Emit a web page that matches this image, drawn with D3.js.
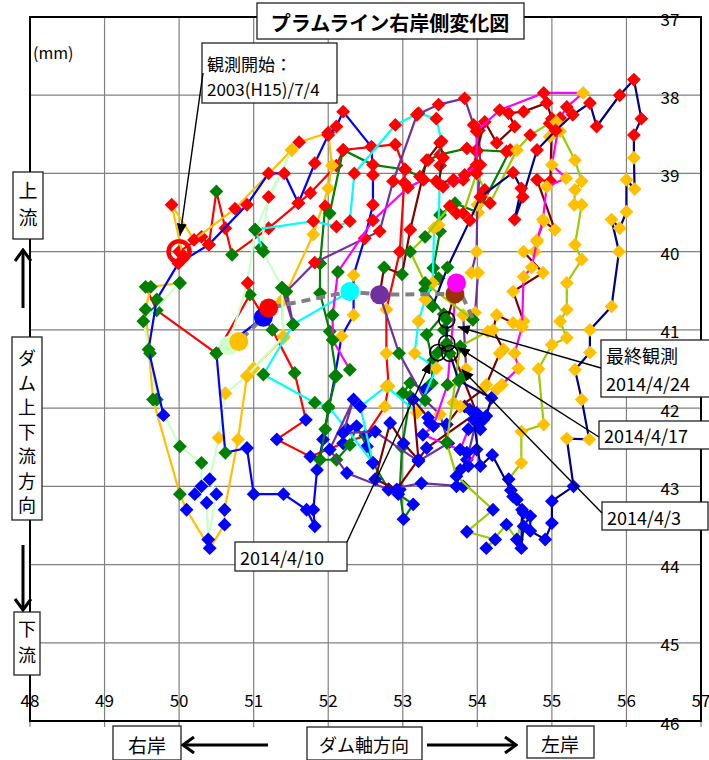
<!DOCTYPE html>
<html>
<head>
<meta charset="utf-8">
<script src="https://cdn.jsdelivr.net/npm/d3@7"></script>
<style>
  body { margin: 0; background: #fff; }
  svg text { font-family: "Noto Sans CJK JP", "Noto Sans", sans-serif; fill: #000; }
</style>
</head>
<body>
<svg id="chart" width="709" height="760"></svg>
<script>
// axis ticks
const xTicks = [48, 49, 50, 51, 52, 53, 54, 55, 56, 57];
const yTicks = [37, 38, 39, 40, 41, 42, 43, 44, 45, 46];

// marker colour by season code
const seasonColor = { R: "#FF0000", Y: "#FFC000", G: "#008000", B: "#0000FF" };

// one list per year: [dam axis (mm), up/downstream (mm), season]
const yr2003 = [[50.00,40.00,"R"],[50.30,39.81,"R"],[50.40,39.91,"R"],[50.50,39.23,"G"],[50.62,39.70,"R"],[50.71,40.04,"G"],[51.20,39.70,"R"],[51.60,39.38,"R"],[51.76,39.25,"R"],[52.11,38.90,"R"],[52.20,38.70,"R"],[52.58,38.66,"R"],[52.90,38.63,"R"],[53.03,38.95,"R"],[53.02,39.12,"R"],[52.96,40.00,"R"],[52.78,40.74,"Y"],[52.78,41.30,"Y"],[52.81,41.72,"Y"],[52.76,41.98,"Y"],[52.50,42.35,"B"],[52.20,42.45,"B"],[51.76,42.62,"B"],[51.31,42.40,"B"],[51.70,42.15,"B"],[51.55,41.55,"G"],[51.25,41.00,"G"],[50.95,40.55,"G"],[50.50,41.30,"G"],[49.70,40.75,"G"],[49.55,40.45,"G"]];
const yr2004 = [[50.05,40.05,"R"],[49.90,39.40,"R"],[50.20,39.85,"R"],[50.75,39.45,"R"],[51.51,38.70,"Y"],[51.61,38.60,"R"],[52.00,38.48,"R"],[52.05,38.90,"Y"],[52.00,39.19,"Y"],[51.80,39.78,"Y"],[51.40,40.60,"Y"],[51.38,40.64,"Y"],[51.40,41.10,"Y"],[51.00,41.49,"Y"],[50.91,41.59,"Y"],[50.79,42.40,"Y"],[50.61,43.30,"B"],[50.61,43.49,"B"],[50.41,43.79,"B"],[50.10,43.30,"B"],[50.01,43.10,"G"],[49.65,41.89,"G"],[49.55,40.74,"G"],[49.62,40.45,"G"],[50.01,40.40,"G"]];
const yr2005 = [[50.01,40.40,"G"],[49.52,40.89,"G"],[49.61,41.30,"G"],[49.70,41.89,"G"],[50.01,42.49,"G"],[50.30,42.70,"G"],[50.30,43.00,"B"],[50.21,43.10,"B"],[50.37,43.21,"B"],[50.39,43.68,"B"],[50.50,43.10,"B"],[50.41,42.91,"B"],[50.53,42.38,"Y"],[50.62,41.81,"Y"],[50.91,41.59,"Y"],[51.40,41.08,"Y"],[51.38,40.46,"G"],[51.10,39.95,"G"],[51.20,39.30,"R"],[51.51,38.70,"Y"],[51.02,39.72,"G"],[50.92,40.40,"R"],[50.66,41.20,"G"]];
const yr2006 = [[49.79,42.09,"B"],[49.59,41.25,"G"],[49.70,40.61,"G"],[49.99,40.15,"R"],[50.40,39.91,"R"],[50.91,39.40,"R"],[51.20,39.00,"R"],[51.41,39.00,"R"],[51.60,39.38,"R"],[51.82,38.87,"R"],[52.00,38.51,"R"],[52.11,38.40,"R"],[52.20,38.21,"R"],[52.58,38.66,"R"],[52.60,39.02,"R"],[52.60,39.40,"R"],[52.49,39.83,"Y"],[52.34,40.30,"Y"],[52.34,40.81,"Y"],[52.18,41.08,"Y"],[52.09,41.59,"G"],[51.93,42.40,"B"],[51.85,42.79,"B"],[51.80,43.30,"B"],[51.82,43.51,"B"],[51.71,43.30,"B"],[51.40,43.10,"B"],[51.00,43.10,"B"],[50.91,42.51,"B"],[50.62,42.57,"G"],[50.50,41.30,"G"],[51.13,40.84,"G"]];
const yr2007 = [[51.89,40.15,"G"],[51.96,39.42,"R"],[52.02,39.51,"G"],[52.20,38.70,"R"],[52.60,38.89,"R"],[53.03,38.95,"R"],[53.23,39.04,"R"],[53.34,38.83,"R"],[53.50,38.76,"R"],[53.86,38.68,"R"],[53.99,38.70,"R"],[54.39,38.72,"R"],[54.44,38.70,"R"],[54.01,39.50,"Y"],[53.70,39.38,"G"],[53.50,39.53,"G"],[53.50,39.74,"G"],[53.41,40.21,"G"],[53.48,40.34,"G"],[53.30,40.49,"G"],[53.55,40.80,"G"],[53.32,41.06,"G"],[53.40,41.40,"G"],[53.39,41.68,"G"],[53.30,41.76,"B"],[53.10,41.68,"G"],[53.00,41.81,"G"],[53.10,41.85,"G"],[52.99,42.50,"G"],[52.96,43.04,"B"],[53.01,43.42,"B"],[53.14,43.23,"B"],[52.94,43.10,"B"],[52.81,43.04,"B"],[52.60,42.70,"B"],[52.52,42.49,"B"],[52.38,42.23,"B"],[52.29,42.47,"G"],[52.11,42.66,"G"],[51.89,42.66,"G"],[51.96,42.27,"G"],[52.00,42.00,"G"],[52.11,41.59,"G"],[52.02,41.02,"G"],[51.89,40.53,"G"],[51.89,40.15,"G"]];
const yr2008 = [[51.13,40.00,"G"],[51.02,39.72,"G"],[51.80,39.61,"R"],[52.11,39.68,"R"],[52.29,39.61,"R"],[52.35,39.00,"R"],[52.90,38.38,"R"],[53.21,38.23,"R"],[53.45,38.30,"R"],[53.52,38.59,"R"],[53.50,38.90,"R"],[53.48,39.66,"Y"],[53.42,39.70,"Y"],[53.40,40.40,"Y"],[53.30,40.61,"Y"],[53.21,40.89,"Y"],[53.16,41.30,"Y"],[53.45,41.49,"Y"],[53.19,42.06,"Y"],[52.78,41.72,"Y"],[52.43,41.98,"B"],[52.60,42.70,"B"],[52.25,42.27,"B"],[52.00,41.98,"G"],[51.82,41.93,"G"],[51.13,41.57,"G"],[51.53,40.93,"G"],[52.29,40.51,"G"]];
const yr2009 = [[51.38,40.46,"G"],[51.53,40.93,"G"],[51.44,40.51,"G"],[51.82,40.14,"R"],[52.49,39.83,"R"],[52.69,39.74,"R"],[52.87,39.10,"R"],[53.19,38.25,"R"],[53.48,38.12,"R"],[53.83,38.04,"R"],[53.95,38.38,"R"],[54.02,38.45,"R"],[54.04,38.89,"R"],[54.00,39.40,"Y"],[53.99,40.00,"Y"],[53.92,40.27,"Y"],[54.01,40.27,"Y"],[53.97,40.78,"Y"],[53.81,40.81,"Y"],[53.85,41.50,"Y"],[53.68,41.93,"Y"],[53.83,41.98,"B"],[53.90,42.02,"B"],[53.99,42.15,"B"],[53.86,42.66,"B"],[53.77,42.79,"B"],[53.72,43.00,"B"],[53.81,43.00,"B"],[53.25,42.96,"B"],[52.81,43.04,"B"],[52.25,42.83,"B"],[52.02,42.53,"B"],[52.34,41.89,"B"],[52.20,42.32,"B"],[52.63,42.30,"B"],[53.21,42.68,"B"],[53.61,42.45,"B"],[53.50,42.08,"Y"],[53.30,41.90,"G"],[52.95,41.30,"G"],[52.69,40.55,"G"]];
const yr2010 = [[52.69,40.55,"G"],[52.75,40.20,"G"],[52.99,40.29,"G"],[53.10,39.72,"R"],[53.32,38.83,"R"],[53.50,38.61,"R"],[53.54,38.80,"R"],[53.48,39.13,"R"],[53.68,39.08,"R"],[53.81,39.08,"R"],[53.95,38.95,"R"],[53.99,38.72,"R"],[54.10,38.34,"R"],[54.26,38.61,"R"],[54.50,38.40,"R"],[54.42,38.23,"R"],[54.62,38.21,"R"],[54.93,38.10,"R"],[55.00,38.30,"R"],[54.98,39.10,"R"],[54.80,39.08,"R"],[55.04,39.72,"Y"],[54.89,39.61,"Y"],[54.80,39.85,"Y"],[54.77,40.00,"Y"],[54.62,40.00,"Y"],[54.88,40.27,"Y"],[54.48,40.51,"Y"],[54.62,40.89,"Y"],[54.48,40.91,"Y"],[54.26,40.81,"Y"],[54.21,41.00,"Y"],[54.35,41.25,"Y"],[54.30,41.30,"Y"],[54.12,41.70,"Y"],[54.08,41.76,"Y"],[53.77,41.98,"Y"],[53.59,42.21,"B"],[53.36,42.19,"B"],[53.34,42.12,"B"],[53.14,41.89,"B"],[53.21,42.66,"B"],[53.01,42.45,"B"],[52.83,42.19,"B"],[52.63,42.91,"B"],[52.92,43.04,"B"],[53.32,42.51,"B"],[53.99,42.06,"B"],[53.80,41.60,"G"],[53.55,41.00,"G"],[53.70,40.54,"G"]];
const yr2011 = [[52.29,41.51,"G"],[52.06,41.13,"G"],[52.06,40.81,"G"],[52.13,40.26,"G"],[52.60,39.60,"R"],[53.07,39.18,"R"],[53.28,39.08,"R"],[53.45,39.10,"R"],[53.54,39.17,"R"],[53.68,39.10,"R"],[53.83,39.02,"R"],[53.99,38.89,"R"],[53.99,38.46,"R"],[54.30,38.19,"R"],[54.89,37.97,"R"],[55.42,37.97,"Y"],[55.20,38.15,"R"],[55.11,38.29,"R"],[55.00,38.89,"Y"],[55.19,39.06,"Y"],[54.93,39.17,"Y"],[54.88,39.59,"Y"],[54.80,39.87,"Y"],[54.73,40.20,"Y"],[54.62,40.32,"Y"],[54.60,40.96,"Y"],[54.50,41.30,"Y"],[54.55,41.49,"Y"],[54.33,41.70,"Y"],[54.26,41.76,"Y"],[54.08,42.15,"B"],[53.99,42.15,"B"],[54.04,42.27,"B"],[53.88,42.27,"B"],[53.77,42.53,"B"],[53.99,42.53,"B"],[53.88,42.74,"B"],[53.86,42.57,"B"],[53.27,42.34,"B"],[53.41,42.23,"B"],[53.60,41.70,"G"],[53.72,40.40,"G"]];
const yr2012 = [[53.94,40.87,"G"],[53.30,40.40,"G"],[53.10,40.00,"G"],[53.30,39.81,"G"],[53.63,39.42,"R"],[53.72,39.51,"R"],[53.81,39.51,"R"],[53.99,39.00,"R"],[54.10,39.21,"R"],[54.17,39.38,"R"],[54.53,38.70,"Y"],[54.71,38.51,"R"],[54.97,38.36,"R"],[55.06,38.34,"Y"],[54.97,38.53,"Y"],[55.11,38.46,"Y"],[55.31,38.83,"Y"],[55.40,39.10,"Y"],[55.31,39.21,"Y"],[55.30,39.40,"Y"],[55.40,39.40,"Y"],[55.31,39.91,"Y"],[55.40,40.10,"Y"],[55.20,40.40,"Y"],[55.20,40.74,"Y"],[55.11,40.89,"Y"],[55.20,41.10,"Y"],[55.00,41.19,"Y"],[54.82,41.50,"Y"],[54.89,42.21,"Y"],[54.59,42.30,"Y"],[54.59,42.70,"Y"],[54.42,42.91,"B"],[54.48,43.13,"B"],[54.62,43.34,"B"],[54.53,43.68,"B"],[54.39,43.49,"B"],[54.12,43.79,"B"],[54.24,43.68,"B"],[53.86,43.58,"B"],[54.21,43.30,"B"],[53.72,42.87,"B"],[53.59,42.44,"G"],[53.77,41.21,"G"],[54.14,41.02,"Y"]];
const yr2013 = [[53.40,40.70,"G"],[53.60,40.20,"G"],[53.90,39.60,"R"],[54.04,39.30,"R"],[54.48,38.99,"R"],[54.59,39.19,"R"],[54.50,39.59,"R"],[54.61,39.30,"R"],[54.80,38.70,"R"],[55.05,38.45,"R"],[55.28,38.25,"R"],[55.51,38.10,"R"],[55.60,38.40,"R"],[55.91,38.00,"R"],[56.10,37.80,"R"],[56.20,38.30,"R"],[56.10,38.51,"R"],[56.10,38.80,"Y"],[56.11,39.20,"Y"],[56.00,39.08,"Y"],[56.00,39.49,"Y"],[55.91,39.70,"Y"],[55.80,39.59,"Y"],[55.90,40.00,"Y"],[55.80,40.70,"Y"],[55.51,41.00,"Y"],[55.51,41.29,"Y"],[55.31,41.51,"Y"],[55.40,41.89,"Y"],[55.50,42.40,"Y"],[55.20,42.39,"Y"],[55.29,43.00,"B"],[55.00,43.19,"B"],[55.00,43.47,"B"],[54.91,43.68,"B"],[54.71,43.57,"B"],[54.71,43.38,"B"],[54.62,43.51,"B"],[54.59,43.79,"B"],[54.60,43.30,"B"],[54.53,43.17,"B"],[54.45,43.05,"B"],[54.20,42.60,"B"],[54.04,42.74,"B"],[53.95,42.15,"B"],[54.12,42.10,"B"],[54.19,41.87,"B"],[53.75,41.65,"G"],[53.63,41.30,"G"],[53.47,41.29,"G"],[53.59,41.17,"G"],[53.59,40.87,"G"]];

const yearSeries = [yr2003, yr2004, yr2005, yr2006, yr2007, yr2008, yr2009, yr2010, yr2011, yr2012, yr2013];
const yearColors = ["#FF0000", "#FFC000", "#CCFFCC", "#0000FF", "#008000", "#00FFFF", "#7030A0", "#800000", "#FF00FF", "#99CC00", "#000080"];

// same-season point of each year (big dots) and the trend line through them
const yearlyX = [50.66, 50.80, 51.13, 51.20, 52.29, 52.69, 53.70, 53.72];
const yearlyY = [41.20, 41.15, 40.84, 40.72, 40.51, 40.55, 40.54, 40.40];
const yearlyColors = ["#CCFFCC", "#FFC000", "#0000FF", "#FF0000", "#00FFFF", "#7030A0", "#993300", "#FF00FF"];

// latest observations
const lastDates = ["2014/4/3", "2014/4/10", "2014/4/17", "2014/4/24"];
const lastX = [53.63, 53.47, 53.59, 53.59];
const lastY = [41.30, 41.29, 41.17, 40.87];

const svg = d3.select("#chart");
const x = d3.scaleLinear().domain([48, 57]).range([30, 701]);
const y = d3.scaleLinear().domain([37, 46]).range([17, 721]);

const defs = svg.append("defs");
defs.append("marker").attr("id", "tri")
  .attr("viewBox", "0 0 12 10").attr("refX", 12).attr("refY", 5)
  .attr("markerWidth", 12).attr("markerHeight", 10)
  .attr("markerUnits", "userSpaceOnUse").attr("orient", "auto")
  .append("path").attr("d", "M0,0L12,5L0,10z").attr("fill", "#000");
defs.append("marker").attr("id", "vee")
  .attr("viewBox", "0 0 14 18").attr("refX", 12).attr("refY", 9)
  .attr("markerWidth", 14).attr("markerHeight", 18)
  .attr("markerUnits", "userSpaceOnUse").attr("orient", "auto")
  .append("path").attr("d", "M1,1L12,9L1,17").attr("fill", "none")
  .attr("stroke", "#000").attr("stroke-width", 3);

// grid
svg.append("g").selectAll("line").data(xTicks).join("line")
  .attr("x1", d => x(d)).attr("x2", d => x(d))
  .attr("y1", y(37)).attr("y2", y(46) + 6)
  .attr("stroke", "#808080").attr("stroke-width", 1.2);
svg.append("g").selectAll("line").data(yTicks).join("line")
  .attr("x1", x(48)).attr("x2", x(57))
  .attr("y1", d => y(d)).attr("y2", d => y(d))
  .attr("stroke", "#808080").attr("stroke-width", 1.2);

// frame
svg.append("rect").attr("x", x(48)).attr("y", y(37))
  .attr("width", x(57) - x(48)).attr("height", y(46) - y(37))
  .attr("fill", "none").attr("stroke", "#000").attr("stroke-width", 2);

// tick labels
svg.append("g").selectAll("text").data(xTicks).join("text")
  .attr("x", d => x(d)).attr("y", y(45.72))
  .attr("text-anchor", "middle").attr("dominant-baseline", "central")
  .style("font-size", "17px").text(d => d);
svg.append("g").selectAll("text").data(yTicks).join("text")
  .attr("x", 670).attr("y", d => y(d) + 1)
  .attr("text-anchor", "middle").attr("dominant-baseline", "central")
  .style("font-size", "17px").text(d => d);

// year lines and markers
const line = d3.line().x(d => x(d[0])).y(d => y(d[1]));
const diamond = d3.symbol(d3.symbolSquare, 96);
yearSeries.forEach((s, i) => {
  const g = svg.append("g");
  g.append("path").attr("d", line(s)).attr("fill", "none")
    .attr("stroke", yearColors[i]).attr("stroke-width", 2.2);
  g.selectAll("path.m").data(s).join("path").attr("class", "m")
    .attr("d", diamond)
    .attr("transform", d => `translate(${x(d[0])},${y(d[1])}) rotate(45)`)
    .attr("fill", d => seasonColor[d[2]]);
});

// yearly trend
const trend = yearlyX.map((v, i) => [v, yearlyY[i]]);
trend.push([53.95, 40.88]);
svg.append("path").attr("d", line(trend)).attr("fill", "none")
  .attr("stroke", "#808080").attr("stroke-width", 4).attr("stroke-dasharray", "9,6");
svg.append("g").selectAll("circle").data(yearlyX).join("circle")
  .attr("cx", d => x(d)).attr("cy", (d, i) => y(yearlyY[i])).attr("r", 9.5)
  .attr("fill", (d, i) => yearlyColors[i]);

// start of observation
svg.append("circle").attr("cx", x(50.0)).attr("cy", y(40.0)).attr("r", 10.5)
  .attr("fill", "none").attr("stroke", "#FF0000").attr("stroke-width", 4.5);

// latest observations
svg.append("g").selectAll("circle").data(lastX).join("circle")
  .attr("cx", d => x(d)).attr("cy", (d, i) => y(lastY[i])).attr("r", 8)
  .attr("fill", "none").attr("stroke", "#000").attr("stroke-width", 1.6);

// ---- annotations ----
function box(x0, y0, w, h) {
  svg.append("rect").attr("x", x0).attr("y", y0).attr("width", w).attr("height", h)
    .attr("fill", "#fff").attr("stroke", "#222").attr("stroke-width", 1.3);
}
function label(tx, ty, t, size, anchor) {
  return svg.append("text").attr("x", tx).attr("y", ty)
    .attr("text-anchor", anchor || "start").attr("dominant-baseline", "central")
    .style("font-size", size + "px").text(t);
}
function arrow(x1, y1, x2, y2) {
  svg.append("line").attr("x1", x1).attr("y1", y1).attr("x2", x2).attr("y2", y2)
    .attr("stroke", "#000").attr("stroke-width", 1.4).attr("marker-end", "url(#tri)");
}

// title
box(257, 3, 267, 36);
label(390, 22, "プラムライン右岸側変化図", 20, "middle").style("font-weight", "bold");
label(33, 52, "(mm)", 16);

// start note
box(202, 43, 135, 60);
label(207, 63, "観測開始：", 17);
label(207, 88, "2003(H15)/7/4", 17);
arrow(203, 73, x(50.0) + 1, y(40.0) - 16);

// last observation notes
const noteBoxes = [[602, 502, 106, 28], [235, 542, 112, 29], [599, 421, 112, 28], [601, 340, 110, 57]];
noteBoxes.forEach(b => box(b[0], b[1], b[2], b[3]));
label(607, 517, lastDates[0], 18);
label(240, 557, lastDates[1], 18);
label(604, 435, lastDates[2], 18);
label(606, 355, "最終観測", 18);
label(606, 383, lastDates[3], 18);
arrow(602, 513, x(lastX[0]) + 12, y(lastY[0]) + 16);
arrow(347, 542, x(lastX[1]) - 7, y(lastY[1]) + 9);
arrow(599, 437, x(lastX[2]) + 11, y(lastY[2]) + 4);
arrow(601, 368, x(lastX[3]) + 11, y(lastY[3]) + 7);

// upstream / downstream labels
function thickArrow(x1, y1, x2, y2) {
  svg.append("line").attr("x1", x1).attr("y1", y1).attr("x2", x2).attr("y2", y2)
    .attr("stroke", "#000").attr("stroke-width", 3).attr("marker-end", "url(#vee)");
}
box(13, 172, 30, 67);
label(28, 189, "上", 19, "middle");
label(28, 216, "流", 19, "middle");
thickArrow(23, 308, 23, 250);
box(12, 337, 30, 183);
["ダ", "ム", "上", "下", "流", "方", "向"].forEach((c, i) => label(27, 357 + i * 24.5, c, 18, "middle"));
thickArrow(23, 545, 23, 610);
box(14, 612, 26, 63);
label(27, 628, "下", 18, "middle");
label(27, 654, "流", 18, "middle");

// dam axis labels
box(113, 726, 68, 34);
label(147, 744, "右岸", 19, "middle");
thickArrow(268, 745, 183, 745);
box(307, 727, 115, 33);
label(364, 744, "ダム軸方向", 18, "middle");
thickArrow(427, 745, 516, 745);
box(527, 726, 67, 32);
label(560, 743, "左岸", 19, "middle");
</script>
</body>
</html>
